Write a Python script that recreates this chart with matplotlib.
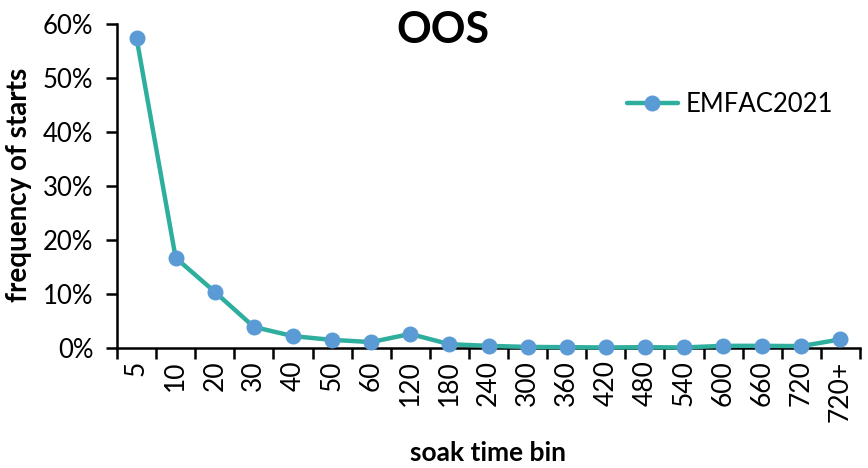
import matplotlib
matplotlib.use("Agg")
import matplotlib.pyplot as plt
from matplotlib.ticker import FuncFormatter, FixedLocator
import numpy as np

plt.rcParams['font.family'] = ['Lato', 'DejaVu Sans']

categories = ["5", "10", "20", "30", "40", "50", "60", "120", "180", "240", "300",
              "360", "420", "480", "540", "600", "660", "720", "720+"]
emfac2021 = [0.574, 0.167, 0.104, 0.039, 0.022, 0.015, 0.011, 0.026, 0.007, 0.004,
             0.002, 0.0015, 0.001, 0.0015, 0.001, 0.004, 0.004, 0.0035, 0.016]

fig = plt.figure(figsize=(8.68, 4.68), dpi=100)
ax = fig.add_axes([117/868, 1-348/468, 743/868, (348-24)/468])

x = np.arange(len(categories))
ax.plot(x, emfac2021, color="#2EAF9E", lw=3.2, marker="o", markersize=10.5,
        markerfacecolor="#5B9BD5", markeredgecolor="#5B9BD5", label="EMFAC2021",
        solid_capstyle="round", clip_on=False, zorder=3)

ax.set_xlim(-0.5, len(categories) - 0.5)
ax.set_ylim(0, 0.6)
ax.set_yticks(np.arange(0, 0.61, 0.1))
ax.yaxis.set_major_formatter(FuncFormatter(lambda v, p: f"{v*100:.0f}%"))
ax.set_xticks(x)
ax.set_xticklabels(categories, rotation=90, fontsize=19)
ax.xaxis.set_minor_locator(FixedLocator(np.arange(-0.5, len(categories), 1)))
ax.tick_params(axis='x', which='major', length=0, pad=9)
ax.tick_params(axis='x', which='minor', length=8, width=1.8, direction='out')
ax.tick_params(axis='y', length=8, width=1.8, labelsize=18.5, pad=9)

for s in ["top", "right"]:
    ax.spines[s].set_visible(False)
for s in ["left", "bottom"]:
    ax.spines[s].set_linewidth(1.8)

fig.text(19/868, 1-185/468, "frequency of starts", fontsize=20, fontweight="bold",
         rotation=90, ha="center", va="center")
ax.set_xlabel("soak time bin", fontsize=19, fontweight="bold", labelpad=14)
fig.text(443/868, 1-30/468, "OOS", fontsize=31, fontweight="bold", ha="center", va="center")

leg = ax.legend(loc="upper right", bbox_to_anchor=(0.995, 0.86), frameon=False,
                fontsize=18.5, handlelength=2.0, handletextpad=0.3)

fig.savefig("out.png", dpi=100)
